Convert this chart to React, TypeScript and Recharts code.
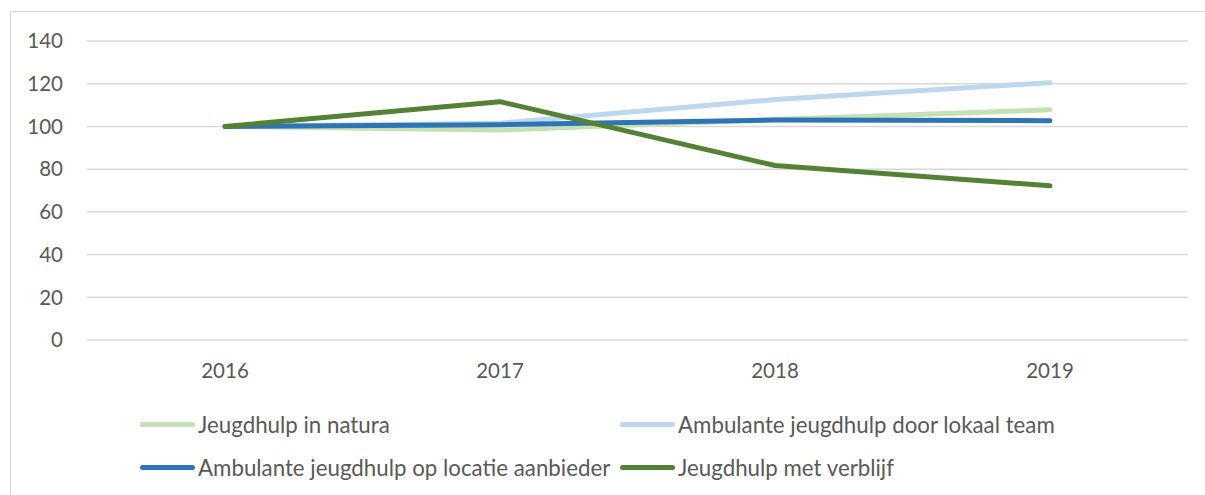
import { LineChart, Line, XAxis, YAxis, CartesianGrid, Legend } from 'recharts'

const years = ['2016', '2017', '2018', '2019']
const inNatura = [100, 98.3, 103.2, 107.8]
const lokaalTeam = [100, 101.5, 112.6, 120.5]
const locatieAanbieder = [100, 100.8, 103, 102.7]
const metVerblijf = [100, 111.6, 81.7, 72.2]
const yTicks = [0, 20, 40, 60, 80, 100, 120, 140]

const series = [
  { key: 'natura', name: 'Jeugdhulp in natura', color: '#C5E0B4' },
  { key: 'lokaal', name: 'Ambulante jeugdhulp door lokaal team', color: '#BDD7EE' },
  { key: 'locatie', name: 'Ambulante jeugdhulp op locatie aanbieder', color: '#2E75B6' },
  { key: 'verblijf', name: 'Jeugdhulp met verblijf', color: '#548235' },
]

const data = years.map((y, i) => ({
  year: y,
  natura: inNatura[i],
  lokaal: lokaalTeam[i],
  locatie: locatieAanbieder[i],
  verblijf: metVerblijf[i],
}))

const FONT = 'Lato, "Open Sans", sans-serif'

function LegendBox() {
  return (
    <div style={{
      display: 'grid', gridTemplateColumns: '480px 480px', rowGap: 19,
      paddingLeft: 140, fontFamily: FONT, fontSize: 22.3, color: '#595959',
    }}>
      {series.map(s => (
        <div key={s.key} style={{ display: 'flex', alignItems: 'center', height: 24, whiteSpace: 'nowrap' }}>
          <span style={{
            display: 'inline-block', width: 55, height: 5, borderRadius: 3,
            background: s.color, marginRight: 3,
          }} />
          {s.name}
        </div>
      ))}
    </div>
  )
}

export default function App() {
  return (
    <div style={{ position: 'fixed', left: 0, top: 0, width: 1205, height: 495, background: '#fff' }}>
      <div style={{
        position: 'absolute', left: 10, top: 11, width: 1200, height: 490,
        borderTop: '1.5px solid #d9d9d9', borderLeft: '1.5px solid #d9d9d9',
      }} />
      <LineChart
        width={1205}
        height={495}
        data={data}
        margin={{ top: 41, right: 17, bottom: 115, left: 0 }}
        style={{ position: 'absolute', left: 0, top: 0 }}
      >
        <CartesianGrid vertical={false} stroke="#d9d9d9" strokeWidth={1.5} />
        <XAxis
          dataKey="year"
          height={40}
          axisLine={false}
          tickLine={false}
          tickMargin={17}
          padding={{ left: 138, right: 138 }}
          tick={{ fill: '#595959', fontSize: 20.5, fontFamily: FONT }}
        />
        <YAxis
          width={87}
          domain={[0, 140]}
          ticks={yTicks}
          axisLine={false}
          tickLine={false}
          tickMargin={18}
          tick={{ fill: '#595959', fontSize: 20.5, fontFamily: FONT }}
        />
        <Legend
          layout="horizontal"
          verticalAlign="middle"
          align="center"
          content={() => <LegendBox />}
          wrapperStyle={{ left: 0, top: 412, width: 1205 }}
        />
        {series.map(s => (
          <Line
            key={s.key}
            dataKey={s.key}
            name={s.name}
            stroke={s.color}
            strokeWidth={5}
            strokeLinecap="round"
            strokeLinejoin="round"
            dot={false}
            activeDot={false}
            type="linear"
            isAnimationActive={false}
          />
        ))}
      </LineChart>
    </div>
  )
}
